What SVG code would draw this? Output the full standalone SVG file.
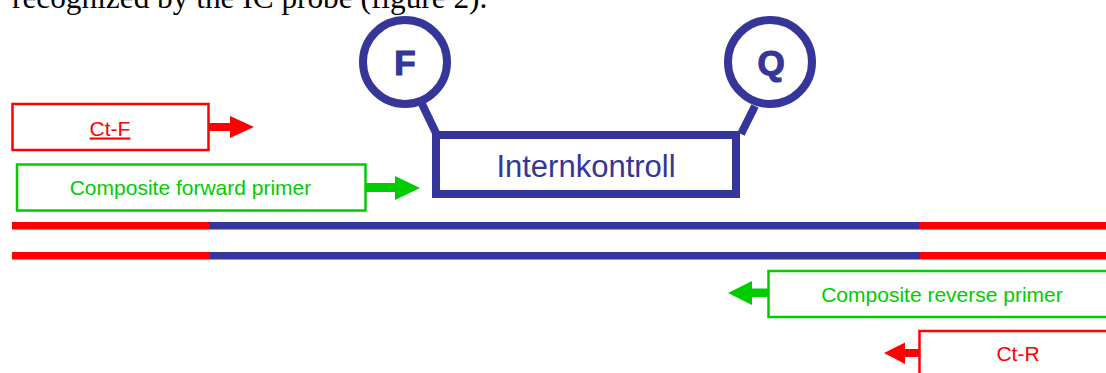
<svg xmlns="http://www.w3.org/2000/svg" width="1106" height="373" viewBox="0 0 1106 373">
  <style>
    .blue { stroke: #35359a; fill: none; stroke-width: 8; }
    .red { stroke: #ff0000; fill: #ffffff; stroke-width: 2.5; }
    .green { stroke: #00cc00; fill: #ffffff; stroke-width: 2.5; }
    .lbl { font-family: "Liberation Sans", Arial, sans-serif; font-size: 21px; text-anchor: middle; }
    .probe { font-family: "Liberation Sans", Arial, sans-serif; font-size: 35px; font-weight: bold; fill: #35359a; stroke: #35359a; stroke-width: 1.2; text-anchor: middle; }
  </style>
  <rect width="1106" height="373" fill="#ffffff"/>
  <text x="12" y="7.5" font-family="Liberation Serif, Times New Roman, serif" font-size="31.3" fill="#000000">recognized by the IC probe (figure 2).</text>

  <g id="connectors">
    <line x1="422" y1="104" x2="436" y2="133" class="blue"/>
    <line x1="755" y1="106" x2="741" y2="134" class="blue"/>
  </g>

  <g id="probe-F">
    <circle cx="405" cy="62" r="42" class="blue"/>
    <text x="405" y="75" class="probe">F</text>
  </g>
  <g id="probe-Q">
    <circle cx="770" cy="62" r="42" class="blue"/>
    <text x="771" y="75" class="probe">Q</text>
  </g>
  <g id="internal-control">
    <rect x="436" y="135" width="300" height="59" class="blue"/>
    <text x="586" y="177" font-family="Liberation Sans, Arial, sans-serif" font-size="31" fill="#35359a" text-anchor="middle">Internkontroll</text>
  </g>

  <g id="ct-f">
    <rect x="12.5" y="104" width="196" height="46" class="red"/>
    <text x="110" y="135.5" class="lbl" fill="#ff0000" text-decoration="underline">Ct-F</text>
    <polygon points="209,123 230,123 230,116 254,127 230,138 230,131 209,131" fill="#ff0000"/>
  </g>
  <g id="forward-primer">
    <rect x="17" y="164.5" width="348.5" height="46" class="green"/>
    <text x="190.5" y="195" class="lbl" fill="#00cc00">Composite forward primer</text>
    <polygon points="366,183 395,183 395,176 420,188 395,200 395,192 366,192" fill="#00cc00"/>
  </g>

  <g id="dna">
    <rect x="12" y="222" width="197" height="7.5" fill="#ff0000"/>
    <rect x="209" y="222" width="710" height="7.5" fill="#35359a"/>
    <rect x="919" y="222" width="187" height="7.5" fill="#ff0000"/>
    <rect x="12" y="252" width="198" height="7.5" fill="#ff0000"/>
    <rect x="210" y="252" width="710" height="7.5" fill="#35359a"/>
    <rect x="920" y="252" width="186" height="7.5" fill="#ff0000"/>
  </g>

  <g id="reverse-primer">
    <rect x="768.5" y="271" width="345" height="46" class="green"/>
    <text x="942" y="302" class="lbl" fill="#00cc00">Composite reverse primer</text>
    <polygon points="768,288.5 752,288.5 752,281 728,293 752,305 752,297 768,297" fill="#00cc00"/>
  </g>
  <g id="ct-r">
    <rect x="919.5" y="331" width="200" height="60" class="red"/>
    <text x="1018" y="361" class="lbl" fill="#ff0000">Ct-R</text>
    <polygon points="919,349 905,349 905,342.5 884,353 905,364 905,357 919,357" fill="#ff0000"/>
  </g>
</svg>
